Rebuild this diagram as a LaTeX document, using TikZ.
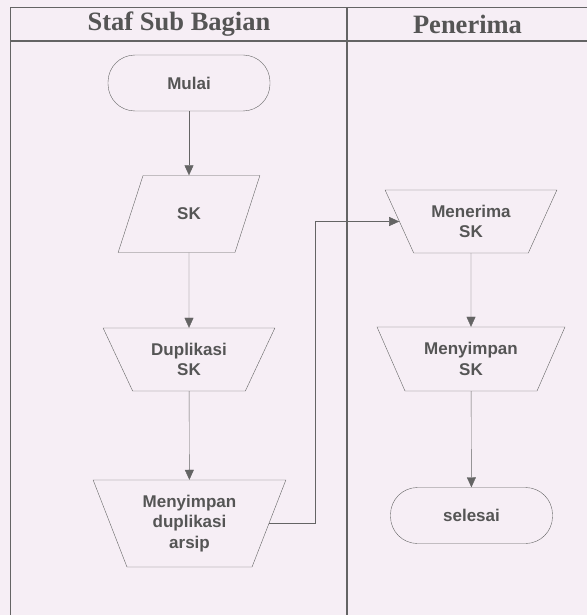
\documentclass[tikz,border=0pt]{standalone}
\usepackage{fontspec}
\setmainfont{Liberation Serif}
\newfontfamily\isi{Liberation Sans}
\usetikzlibrary{shapes.geometric,arrows.meta}
\definecolor{latar}{RGB}{246,238,245}
\definecolor{garis}{RGB}{100,100,100}
\definecolor{tulisan}{RGB}{85,85,85}
\begin{document}
\begin{tikzpicture}[x=1pt,y=-1pt,
    every node/.style={font=\isi\bfseries\fontsize{17}{20.5}\selectfont,text=tulisan,align=center,inner sep=0pt},
    terminal/.style={draw=garis,rectangle,rounded corners=27pt,minimum width=162pt,minimum height=56pt},
    proses/.style={draw=garis,trapezium,shape border rotate=180,trapezium stretches=true,trapezium angle=59,minimum width=172pt,minimum height=63pt},
    data/.style={draw=garis,trapezium,trapezium stretches=true,trapezium left angle=62,trapezium right angle=118,minimum width=142pt,minimum height=77pt},
    panah/.style={draw=garis,-{Triangle[length=10pt,width=9pt]}},
    judul/.style={font=\bfseries\fontsize{26.5}{30}\selectfont,text=tulisan}]
  \fill[latar] (0,0) rectangle (587,615);
  \useasboundingbox (0,0) rectangle (587,615);
  \draw[garis,line width=1.2pt] (587,7.5) -- (10.5,7.5) -- (10.5,615)
    (10.5,41) -- (587,41) (347,7.5) -- (347,615);
  \node[judul] (staf) at (179,24) {Staf Sub Bagian};
  \node[judul] (penerima) at (467.5,24) {Penerima};
  \node[terminal] (mulai) at (189,83) {Mulai};
  \node[data] (sk) at (189,214) {SK};
  \node[proses] (duplikasi) at (189,359.5) {Duplikasi\\SK};
  \node[proses,trapezium angle=66,minimum width=193pt,minimum height=87pt] (arsip) at (189.5,523.5) {Menyimpan\\duplikasi\\arsip};
  \node[proses] (terima) at (471,221.5) {Menerima\\SK};
  \node[proses,minimum width=188pt,minimum height=64pt] (simpan) at (471,359) {Menyimpan\\SK};
  \node[terminal] (selesai) at (471.5,515.5) {selesai};
  \draw[panah] (mulai) -- (sk);
  \draw[panah] (sk) -- (duplikasi);
  \draw[panah] (duplikasi) -- (arsip);
  \draw[panah] (arsip.east) -- ++(46,0) |- (terima.west);
  \draw[panah] (terima) -- (simpan);
  \draw[panah] (simpan) -- (selesai);
\end{tikzpicture}
\end{document}
